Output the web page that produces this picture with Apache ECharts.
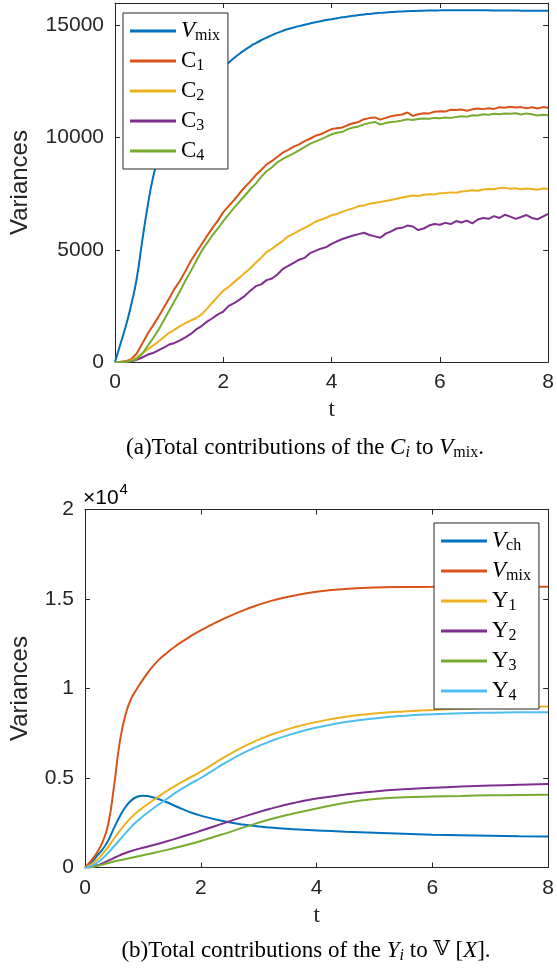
<!DOCTYPE html>
<html><head><meta charset="utf-8">
<script src="https://cdn.jsdelivr.net/npm/echarts@6/dist/echarts.min.js"></script>
<style>html,body{margin:0;padding:0;background:#fff}#c{width:557px;height:971px}</style>
</head><body><div id="c"></div>
<script>
// ---------- top chart (a): t grid and values ----------
const tA = [0,0.1,0.2,0.3,0.4,0.5,0.6,0.7,0.8,0.9,1,1.1,1.2,1.3,1.4,1.5,1.6,1.7,1.8,1.9,2,2.1,2.2,2.3,2.4,2.5,2.6,2.7,2.8,2.9,3,3.1,3.2,3.3,3.4,3.5,3.6,3.7,3.8,3.9,4,4.1,4.2,4.3,4.4,4.5,4.6,4.7,4.8,4.9,5,5.1,5.2,5.3,5.4,5.5,5.6,5.7,5.8,5.9,6,6.1,6.2,6.3,6.4,6.5,6.6,6.7,6.8,6.9,7,7.1,7.2,7.3,7.4,7.5,7.6,7.7,7.8,7.9,8];
const vmixA = [0,800,1600,2550,3700,5350,6900,8200,9100,9800,10400,10900,11300,11650,11950,12200,12450,12650,12850,13020,13180,13350,13550,13740,13910,14070,14210,14340,14460,14570,14670,14760,14840,14910,14970,15030,15090,15140,15190,15240,15280,15320,15360,15395,15430,15460,15490,15515,15540,15560,15580,15595,15610,15622,15634,15644,15652,15660,15666,15670,15672,15674,15675,15676,15676,15676,15675,15674,15673,15672,15670,15668,15666,15664,15662,15660,15658,15656,15654,15652,15650];
const c1A = [0,10,40,130,380,800,1250,1620,2000,2420,2830,3260,3620,4050,4500,4880,5250,5620,5980,6300,6680,6950,7220,7520,7800,8050,8330,8560,8810,8960,9150,9330,9450,9600,9700,9840,9950,10080,10150,10270,10380,10420,10450,10560,10640,10700,10820,10870,10900,10800,10880,10950,11000,11030,11120,10970,11040,11090,11080,11150,11180,11160,11240,11230,11250,11200,11260,11300,11270,11310,11280,11350,11330,11380,11340,11360,11310,11350,11300,11360,11330];
const c2A = [0,0,20,80,200,380,560,730,900,1100,1300,1440,1600,1730,1850,1960,2120,2380,2650,2920,3180,3350,3560,3760,3980,4180,4420,4650,4900,5050,5230,5400,5600,5720,5850,5980,6100,6250,6340,6430,6540,6600,6700,6780,6850,6950,6980,7050,7100,7130,7180,7220,7280,7330,7380,7420,7400,7450,7480,7470,7520,7530,7560,7540,7600,7620,7650,7630,7690,7710,7700,7760,7760,7720,7740,7700,7730,7710,7680,7730,7720];
const c3A = [0,0,10,30,100,200,320,400,520,640,780,850,960,1100,1250,1450,1600,1800,1950,2120,2250,2500,2620,2780,2950,3180,3380,3460,3650,3720,3900,4150,4280,4420,4560,4640,4850,4950,5050,5120,5260,5380,5480,5560,5640,5700,5760,5660,5600,5540,5720,5820,5950,5980,6080,6040,5880,5950,6080,6150,6120,6200,6150,6280,6220,6300,6180,6350,6420,6380,6500,6420,6560,6480,6380,6460,6550,6420,6360,6480,6600];
const c4A = [0,0,10,40,140,350,700,1050,1420,1850,2280,2720,3150,3620,4050,4500,4950,5300,5650,5950,6280,6580,6880,7150,7420,7700,7950,8250,8500,8680,8900,9050,9180,9300,9430,9580,9720,9820,9920,10030,10150,10220,10260,10380,10450,10500,10590,10650,10700,10580,10650,10700,10720,10760,10820,10790,10830,10850,10840,10880,10860,10900,10880,10920,10950,10930,11000,10990,11040,11020,11060,11040,11080,11060,11090,11030,11080,11040,10990,11020,11000];

// ---------- bottom chart (b) ----------
const tB = [0,0.1,0.2,0.3,0.4,0.5,0.6,0.7,0.8,0.9,1.0,1.2,1.4,1.6,1.8,2.0,2.4,2.8,3.2,3.6,4.0,4.5,5.0,5.5,6.0,6.5,7.0,7.5,8.0];
const vchB  = [0,250,620,1000,1500,2200,2850,3380,3750,3950,4010,3900,3660,3380,3110,2900,2580,2370,2230,2140,2070,2000,1940,1880,1830,1800,1775,1750,1730];
const vmixB = [0,350,800,1400,2400,4500,7000,8550,9450,10000,10500,11350,11950,12450,12870,13250,13900,14450,14880,15180,15400,15560,15640,15670,15680,15690,15690,15690,15680];
const y1B = [0,150,400,750,1150,1600,2050,2450,2800,3100,3350,3800,4250,4650,5000,5350,6150,6850,7400,7820,8130,8420,8600,8720,8800,8870,8920,8960,8990];
const y2B = [0,30,110,230,380,530,680,810,920,1020,1100,1270,1450,1640,1840,2050,2480,2900,3280,3600,3850,4080,4250,4370,4450,4520,4580,4620,4660];
const y3B = [0,20,80,160,250,330,400,470,540,610,680,820,970,1130,1300,1480,1880,2300,2700,3020,3300,3620,3830,3920,3970,4000,4030,4050,4060];
const y4B = [0,80,250,500,820,1180,1550,1920,2270,2580,2860,3350,3800,4250,4650,5000,5800,6500,7050,7480,7820,8130,8330,8470,8560,8620,8650,8670,8680];

// ticks
const xTicks = [0,2,4,6,8];
const yTicksA = ['0','5000','10000','15000'];
const yTicksB = ['0','0.5','1','1.5','2'];

const COL = {blue:'#0072BD', orange:'#D95319', yellow:'#EDB120', purple:'#7E2F8E', green:'#77AC30', cyan:'#4DBEEE'};
const AX = '#262626';
const SANS = 'Liberation Sans, Arial, Helvetica, sans-serif';
const SERIF = 'Liberation Serif, Times New Roman, serif';

const zip = (t, v) => t.map((x, i) => [x, v[i]]);

const grids = [
  {left:112, top:3, width:441, height:359, show:false},
  {left:82, top:509.5, width:471.5, height:358, show:false}
];

function xAx(g, pos, withLabel){
  return {type:'value', gridIndex:g, position:pos, min:0, max:8, interval:2,
    axisLine:{show:true, onZero:false, lineStyle:{color:AX, width:1}},
    axisTick:{show:true, inside:true, length:5, lineStyle:{color:AX, width:1}},
    axisLabel:{show:withLabel, margin:10, fontFamily:SANS, fontSize:21, color:AX, formatter: v => String(xTicks[v/2])},
    splitLine:{show:false},
    name: withLabel ? 't' : '', nameLocation:'middle', nameGap:48,
    nameTextStyle:{fontFamily:SERIF, fontSize:23, color:AX, verticalAlign:'middle', align:'center'}};
}
function yAx(g, pos, withLabel, max, labels, name, gap){
  return {type:'value', gridIndex:g, position:pos, min:0, max:max, interval:5000,
    axisLine:{show:true, onZero:false, lineStyle:{color:AX, width:1}},
    axisTick:{show:true, inside:true, length:5, lineStyle:{color:AX, width:1}},
    axisLabel:{show:withLabel, margin:11, fontFamily:SANS, fontSize:21, color:AX, showMaxLabel: max % 5000 === 0,
      formatter: v => (labels && labels[v/5000] !== undefined) ? labels[v/5000] : ''},
    splitLine:{show:false},
    name: withLabel ? name : '', nameLocation:'middle', nameGap:gap,
    nameTextStyle:{fontFamily:SANS, fontSize:24, color:AX, verticalAlign:'middle', align:'center'}};
}

function ser(name, xi, t, v, color, smooth){
  return {type:'line', name, xAxisIndex:xi, yAxisIndex:xi, data:zip(t, v), showSymbol:false, symbol:'none',
    smooth: smooth, lineStyle:{width:2, color}, itemStyle:{color}, emphasis:{disabled:true}};
}

const legendRich = {
  m:{fontFamily:SERIF, fontSize:23, lineHeight:24, verticalAlign:'top', color:'#000'},
  mi:{fontFamily:SERIF, fontSize:23, lineHeight:24, verticalAlign:'top', fontStyle:'italic', color:'#000'},
  s:{fontFamily:SERIF, fontSize:16, lineHeight:16, padding:[9,0,0,0], verticalAlign:'top', color:'#000'}
};
const legendLabels = {
  'Vmix':'{mi|V}{s|mix}', 'C1':'{m|C}{s|1}', 'C2':'{m|C}{s|2}', 'C3':'{m|C}{s|3}', 'C4':'{m|C}{s|4}',
  'Vch':'{mi|V}{s|ch}', 'Vmix2':'{mi|V}{s|mix}', 'Y1':'{m|Y}{s|1}', 'Y2':'{m|Y}{s|2}', 'Y3':'{m|Y}{s|3}', 'Y4':'{m|Y}{s|4}'
};
function leg(left, top, data){
  return {orient:'vertical', left, top, padding:[6,8,5,7], itemGap:5, itemWidth:46, itemHeight:3, icon:'rect',
    backgroundColor:'#fff', borderColor:AX, borderWidth:1, borderRadius:0, selectedMode:false,
    data, formatter: n => legendLabels[n], textStyle:{rich:legendRich, color:'#000'}};
}

const capRich = {
  r:{fontFamily:SERIF, fontSize:23, lineHeight:24, verticalAlign:'top', color:'#000'},
  i:{fontFamily:SERIF, fontSize:23, lineHeight:24, verticalAlign:'top', fontStyle:'italic', color:'#000'},
  bb:{fontFamily:'DejaVu Serif, DejaVu Sans, serif', fontSize:21, lineHeight:24, verticalAlign:'top', color:'#000'},
  s:{fontFamily:SERIF, fontSize:16, lineHeight:16, padding:[9,0,0,0], verticalAlign:'top', color:'#000'},
  si:{fontFamily:SERIF, fontSize:16, lineHeight:16, padding:[9,0,0,0], verticalAlign:'top', fontStyle:'italic', color:'#000'}
};

const option = {
  animation:false,
  backgroundColor:'#fff',
  grid: grids,
  xAxis:[xAx(0,'bottom',true), xAx(0,'top',false), xAx(1,'bottom',true), xAx(1,'top',false)],
  yAxis:[
    yAx(0,'left',true,16000,yTicksA,'Variances',95), yAx(0,'right',false,16000,null,'',0),
    yAx(1,'left',true,20000,yTicksB,'Variances',65), yAx(1,'right',false,20000,null,'',0)
  ],
  legend:[leg(123,13,['Vmix','C1','C2','C3','C4']), leg(434,523,['Vch','Vmix2','Y1','Y2','Y3','Y4'])],
  series:[
    ser('Vmix',0,tA,vmixA,COL.blue,true),
    ser('C1',0,tA,c1A,COL.orange,false),
    ser('C2',0,tA,c2A,COL.yellow,false),
    ser('C3',0,tA,c3A,COL.purple,false),
    ser('C4',0,tA,c4A,COL.green,false),
    ser('Vch',2,tB,vchB,COL.blue,true),
    ser('Vmix2',2,tB,vmixB,COL.orange,true),
    ser('Y1',2,tB,y1B,COL.yellow,true),
    ser('Y2',2,tB,y2B,COL.purple,true),
    ser('Y3',2,tB,y3B,COL.green,true),
    ser('Y4',2,tB,y4B,COL.cyan,true)
  ],
  graphic:[
    {type:'text', x:305, y:436, style:{text:'{r|(a)Total contributions of the }{i|C}{si|i}{r| to }{i|V}{s|mix}{r|.}', rich:capRich, align:'center', verticalAlign:'top'}},
    {type:'text', x:306, y:939, style:{text:'{r|(b)Total contributions of the }{i|Y}{si|i}{r| to }{bb|\uD835\uDD4D}{r| [}{i|X}{r|].}', rich:capRich, align:'center', verticalAlign:'top'}},
    {type:'text', x:83, y:482, style:{text:'{a|\u00D710}{b|4}', rich:{
      a:{fontFamily:SANS, fontSize:21, lineHeight:21, padding:[6,0,0,0], verticalAlign:'top', color:AX},
      b:{fontFamily:SANS, fontSize:15, lineHeight:15, padding:[0,0,0,1], verticalAlign:'top', color:AX}
    }, align:'left', verticalAlign:'top'}}
  ]
};
const chart = echarts.init(document.getElementById('c'), null, {renderer:'canvas'});
chart.setOption(option);
</script>
</body></html>
